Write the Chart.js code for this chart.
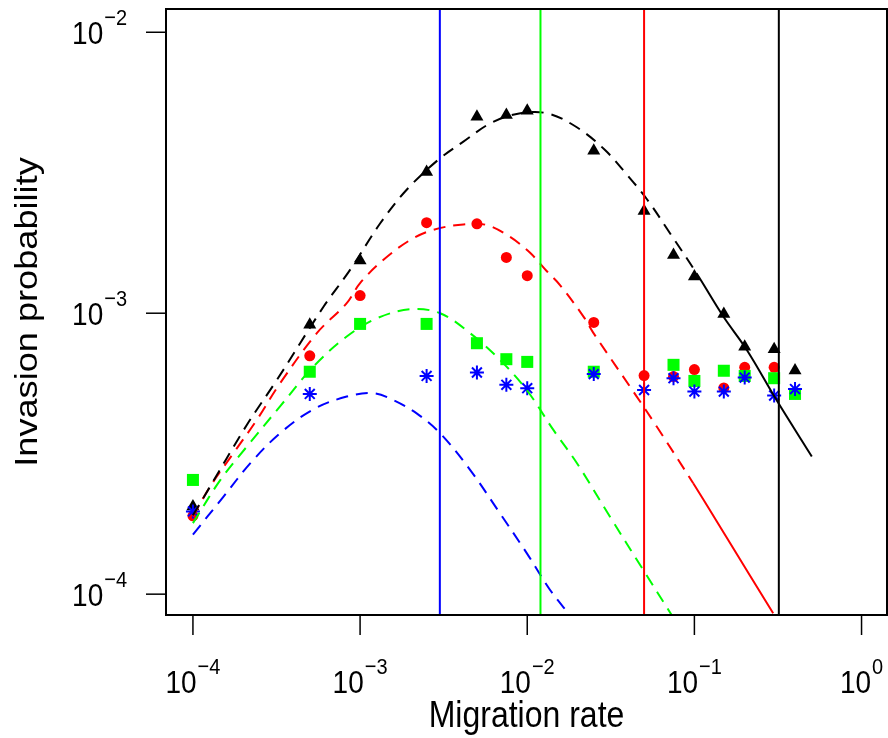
<!DOCTYPE html>
<html>
<head>
<meta charset="utf-8">
<script src="https://cdn.jsdelivr.net/npm/chart.js@4.4.0/dist/chart.umd.min.js"></script>
<style>
  html, body { margin: 0; padding: 0; background: #fff; overflow: hidden; }
  canvas { display: block; }
</style>
</head>
<body>
<canvas id="myChart" width="888" height="738"></canvas>
<script>
// simulated invasion probabilities at each migration rate
const migration = [1e-4, 5e-4, 1e-3, 2.5e-3, 5e-3, 7.5e-3, 1e-2, 2.5e-2, 5e-2, 7.5e-2, 0.1, 0.15, 0.2, 0.3, 0.4]
const simBlack = [2.05e-4, 9.1e-4, 1.54e-3, 3.18e-3, 5.0e-3, 5.08e-3, 5.26e-3, 3.79e-3, 2.31e-3, 1.61e-3, 1.35e-3, 9.94e-4, 7.6e-4, 7.44e-4, 6.25e-4]
const simRed = [1.9e-4, 7.05e-4, 1.156e-3, 2.1e-3, 2.08e-3, 1.58e-3, 1.36e-3, 9.27e-4, 6.0e-4, 5.95e-4, 6.3e-4, 5.42e-4, 6.42e-4, 6.42e-4, null]
const simGreen = [2.55e-4, 6.19e-4, 9.16e-4, 9.16e-4, 7.82e-4, 6.86e-4, 6.71e-4, 6.19e-4, null, 6.55e-4, 5.74e-4, 6.24e-4, 5.98e-4, 5.87e-4, 5.16e-4]
const simBlue = [1.97e-4, 5.16e-4, null, 5.98e-4, 6.15e-4, 5.56e-4, 5.41e-4, 6.07e-4, 5.33e-4, 5.87e-4, 5.26e-4, 5.26e-4, 5.9e-4, 5.09e-4, 5.37e-4]

// approximation curves
const blackCurveX = [1e-4, 1.18e-4, 2.1e-4, 3.18e-4, 6.04e-4, 8.71e-4, 1.32e-3, 1.9e-3, 2.94e-3, 4.15e-3, 6.01e-3, 8.65e-3, 1.31e-2, 1.98e-2, 2.92e-2, 3.97e-2, 5.19e-2, 7.13e-2, 0.103, 0.149, 0.206, 0.31, 0.504]
const blackCurveY = [1.91e-4, 2.25e-4, 4.0e-4, 5.79e-4, 1.054e-3, 1.426e-3, 2.09e-3, 2.75e-3, 3.52e-3, 4.08e-3, 4.74e-3, 5.12e-3, 5.15e-3, 4.59e-3, 3.81e-3, 3.1e-3, 2.55e-3, 1.93e-3, 1.387e-3, 9.73e-4, 7.4e-4, 4.91e-4, 3.09e-4]
const redCurveX = [1e-4, 1.27e-4, 1.75e-4, 2.41e-4, 3.32e-4, 5.51e-4, 8.32e-4, 1e-3, 1.38e-3, 1.99e-3, 2.74e-3, 4.15e-3, 5.73e-3, 7.88e-3, 1.04e-2, 1.31e-2, 1.57e-2, 2.17e-2, 2.48e-2, 4.52e-2, 5.95e-2, 9.84e-2, 0.156, 0.296]
const redCurveY = [1.89e-4, 2.42e-4, 3.18e-4, 4.17e-4, 5.63e-4, 8.49e-4, 1.086e-3, 1.28e-3, 1.55e-3, 1.82e-3, 1.98e-3, 2.07e-3, 2.06e-3, 1.87e-3, 1.64e-3, 1.41e-3, 1.26e-3, 9.73e-4, 8.53e-4, 5.05e-4, 3.95e-4, 2.48e-4, 1.59e-4, 8.55e-5]
const greenCurveX = [1e-4, 1.46e-4, 2.1e-4, 3.32e-4, 5.26e-4, 8.32e-4, 1.26e-3, 1.99e-3, 3.01e-3, 4.55e-3, 6.87e-3, 9.93e-3, 1.43e-2, 1.98e-2, 3.12e-2, 4.94e-2, 7.31e-2]
const greenCurveY = [1.79e-4, 2.55e-4, 3.35e-4, 4.66e-4, 6.46e-4, 8.26e-4, 9.59e-4, 1.033e-3, 1.0e-3, 8.49e-4, 6.82e-4, 5.33e-4, 3.85e-4, 2.93e-4, 1.89e-4, 1.22e-4, 8.43e-5]
const blueCurveX = [1e-4, 1.52e-4, 2.2e-4, 3.32e-4, 5.26e-4, 8.32e-4, 1.2e-3, 1.58e-3, 2.18e-3, 3.01e-3, 4.55e-3, 6.87e-3, 9.93e-3, 1.37e-2, 1.76e-2]
const blueCurveY = [1.63e-4, 2.22e-4, 2.92e-4, 3.74e-4, 4.55e-4, 5.05e-4, 5.19e-4, 4.91e-4, 4.4e-4, 3.74e-4, 2.77e-4, 1.94e-4, 1.4e-4, 1.035e-4, 8.55e-5]
// curves turn from dashed to solid at this migration rate
const solidFrom = 0.098

// vertical threshold lines
const thresholdX = [0.003, 0.012, 0.05, 0.32]
const thresholdColors = ["#0000FF", "#00FF00", "#FF0000", "#000000"]

// axis ticks (decades) and their exponents
const xTicks = [1e-4, 1e-3, 1e-2, 1e-1, 1]
const xTickExp = ["\u22124", "\u22123", "\u22122", "\u22121", "0"]
const yTicks = [1e-4, 1e-3, 1e-2]
const yTickExp = ["\u22124", "\u22123", "\u22122"]

const xMin = 6.9e-5, xMax = 1.42
const yMin = 8.43e-5, yMax = 1.21e-2

const FONT = '"Liberation Sans", Arial, Helvetica, sans-serif'
const textStretch = 1.13
const DASH = [12, 8]

const toPoints = (xs, ys) => xs.map((x, i) => ({x: x, y: ys[i]})).filter(p => p.y !== null)

const curve = (xs, ys, color, split) => ({
    type: "line",
    data: toPoints(xs, ys),
    showLine: true,
    borderColor: color,
    borderWidth: 2,
    borderDash: DASH,
    pointRadius: 0,
    tension: 0.35,
    order: 5,
    clip: 0,
    segment: {
        // solid once the curve passes solidFrom
        borderDash: ctx => (split && ctx.p0.parsed.x >= solidFrom) ? [] : DASH
    }
})

const markers = (ys, color, style, radius, order) => ({
    type: "scatter",
    data: toPoints(migration, ys),
    showLine: false,
    pointStyle: style,
    pointRadius: radius,
    pointBackgroundColor: color,
    pointBorderColor: color,
    pointBorderWidth: style === "star" ? 2 : 0,
    order: order
})

const verticals = thresholdX.map((t, i) => ({
    type: "line",
    data: [{x: t, y: yMin}, {x: t, y: yMax}],
    showLine: true,
    borderColor: thresholdColors[i],
    borderWidth: 2,
    pointRadius: 0,
    order: 1,
    clip: 0
}))

function stretchedText(ctx, text, px, py, size, align, rotate) {
    ctx.save()
    ctx.translate(px, py)
    ctx.scale(1, textStretch)
    if (rotate) ctx.rotate(-Math.PI / 2)
    ctx.font = size + "px " + FONT
    ctx.textAlign = align
    ctx.textBaseline = "alphabetic"
    ctx.fillText(text, 0, 0)
    ctx.restore()
}

// "10" with a raised exponent; anchor is the centre or right edge
function powerLabel(ctx, exp, ax, baseY, align) {
    ctx.font = "28px " + FONT
    const wBase = ctx.measureText("10").width
    ctx.font = "20px " + FONT
    const wExp = ctx.measureText(exp).width
    const total = wBase + 1 + wExp
    const left = align === "center" ? ax - total / 2 : ax - total
    stretchedText(ctx, "10", left, baseY, 28, "left")
    stretchedText(ctx, exp, left + wBase + 1, baseY - 19, 20, "left")
}

const axisDecor = {
    id: "axisDecor",
    afterDraw(chart) {
        const {ctx, chartArea: a, scales} = chart
        ctx.save()
        ctx.fillStyle = "#000"
        ctx.strokeStyle = "#000"
        ctx.lineWidth = 2
        ctx.strokeRect(a.left, a.top, a.right - a.left, a.bottom - a.top)

        ctx.lineWidth = 1.5
        xTicks.forEach((v, i) => {
            const px = scales.x.getPixelForValue(v)
            ctx.beginPath()
            ctx.moveTo(px, a.bottom)
            ctx.lineTo(px, a.bottom + 20)
            ctx.stroke()
            powerLabel(ctx, xTickExp[i], px, a.bottom + 78, "center")
        })
        yTicks.forEach((v, i) => {
            const py = scales.y.getPixelForValue(v)
            ctx.beginPath()
            ctx.moveTo(a.left - 20, py)
            ctx.lineTo(a.left, py)
            ctx.stroke()
            powerLabel(ctx, yTickExp[i], 127, py + 12, "right")
        })

        stretchedText(ctx, "Migration rate", (a.left + a.right) / 2, 727, 32, "center")
        stretchedText(ctx, "Invasion probability", 37, (a.top + a.bottom) / 2, 32, "center", true)
        ctx.restore()
    }
}

new Chart(document.getElementById("myChart").getContext("2d"), {
    type: "scatter",
    data: {
        datasets: [
            ...verticals,
            curve(blackCurveX, blackCurveY, "#000000", true),
            curve(redCurveX, redCurveY, "#FF0000", true),
            curve(greenCurveX, greenCurveY, "#00FF00", false),
            curve(blueCurveX, blueCurveY, "#0000FF", false),
            markers(simBlue, "#0000FF", "star", 7, 10),
            markers(simGreen, "#00FF00", "rect", 8.5, 11),
            markers(simRed, "#FF0000", "circle", 5.5, 12),
            markers(simBlack, "#000000", "triangle", 7.5, 13)
        ]
    },
    options: {
        responsive: false,
        animation: false,
        events: [],
        layout: {autoPadding: false, padding: {left: 166, right: 1, top: 9, bottom: 123}},
        plugins: {legend: {display: false}, tooltip: {enabled: false}},
        scales: {
            x: {type: "logarithmic", min: xMin, max: xMax, bounds: "data", display: false},
            y: {type: "logarithmic", min: yMin, max: yMax, bounds: "data", display: false}
        }
    },
    plugins: [axisDecor]
})
</script>
</body>
</html>
